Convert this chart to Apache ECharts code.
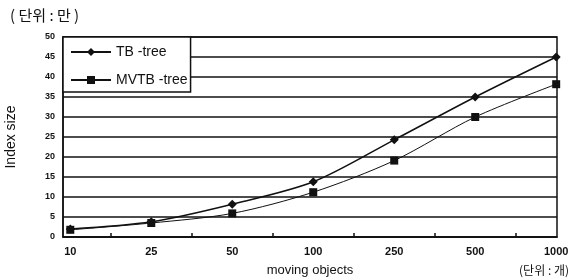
<!DOCTYPE html>
<html><head><meta charset="utf-8">
<script src="https://cdn.jsdelivr.net/npm/echarts@6/dist/echarts.min.js"></script>
<style>html,body{margin:0;padding:0;background:#fff}#c{width:576px;height:278px}</style>
</head><body><div id="c"></div>
<script>
const categories = ['10','25','50','100','250','500','1000'];
const tbTree = [2, 3.8, 8.2, 13.8, 24.3, 35, 45];
const mvtbTree = [1.8, 3.5, 5.9, 11.2, 19.1, 30, 38.2];
const yTicks = [0,5,10,15,20,25,30,35,40,45,50];
const seriesNames = ['TB -tree', 'MVTB -tree'];

const font = '"Liberation Sans", Arial, sans-serif';
const kfont = '"Noto Sans CJK KR", sans-serif';
const chart = echarts.init(document.getElementById('c'));
chart.setOption({
  animation: false,
  backgroundColor: '#fff',
  textStyle: {fontFamily: font},
  title: [
    {text: '( 단위 : 만 )', left: 5, top: 3, textStyle: {fontSize: 15, fontWeight: 'normal', color: '#111', fontFamily: kfont}},
    {text: '(단위 : 개)', right: 2, top: 259, textStyle: {fontSize: 12, fontWeight: 'normal', color: '#111', fontFamily: kfont}}
  ],
  grid: {left: 63, right: 19, top: 37, bottom: 41, show: true, borderColor: '#111', borderWidth: 1.5, outerBoundsMode: 'none', containLabel: false},
  legend: {
    orient: 'vertical', left: 63, top: 37,
    backgroundColor: '#fff', borderColor: '#111', borderWidth: 1.5,
    padding: [8, 3, 5, 7], itemGap: 14, itemWidth: 40, itemHeight: 10,
    textStyle: {fontSize: 14, color: '#111', fontFamily: font},
    data: seriesNames
  },
  xAxis: {
    type: 'value', min: -0.09, max: 6.01,
    name: 'moving objects', nameLocation: 'middle', nameGap: 27,
    nameTextStyle: {fontSize: 13, color: '#111', fontFamily: font},
    axisLine: {lineStyle: {color: '#111', width: 1.5}},
    axisTick: {show: true, inside: true, length: 4, customValues: [0.5,1.5,2.5,3.5,4.5,5.5], lineStyle: {color: '#111', width: 1.5}},
    axisLabel: {customValues: [0,1,2,3,4,5,6], formatter: v => categories[Math.round(v)], fontSize: 11, fontWeight: 'bold', color: '#111', margin: 9},
    splitLine: {show: false}
  },
  yAxis: {
    type: 'value', min: 0, max: 50, interval: 5,
    name: 'Index size', nameLocation: 'middle', nameRotate: 90, nameGap: 45,
    nameTextStyle: {fontSize: 14, color: '#111', fontFamily: font},
    axisLine: {show: true, onZero: false, lineStyle: {color: '#111', width: 1.5}},
    axisTick: {show: false},
    axisLabel: {fontSize: 9, fontWeight: 'bold', color: '#111', margin: 8, formatter: v => yTicks.includes(v) ? String(v) : ''},
    splitLine: {show: true, lineStyle: {color: '#111', width: 1.5}}
  },
  series: [
    {name: seriesNames[0], type: 'line', smooth: 0.3, symbol: 'diamond', symbolSize: 9,
     lineStyle: {color: '#111', width: 1.5}, itemStyle: {color: '#111'},
     data: tbTree.map((v, i) => [i, v])},
    {name: seriesNames[1], type: 'line', smooth: 0.3, symbol: 'rect', symbolSize: 8,
     lineStyle: {color: '#111', width: 1}, itemStyle: {color: '#111'},
     data: mvtbTree.map((v, i) => [i, v])}
  ]
});
</script></body></html>
